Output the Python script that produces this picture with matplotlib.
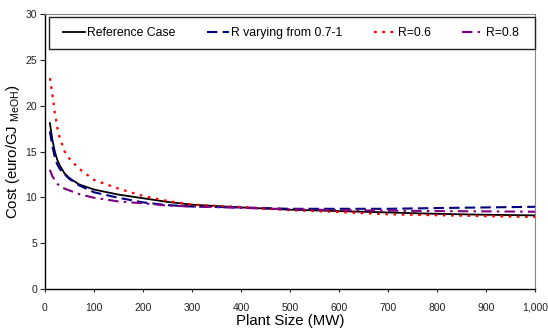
import matplotlib
matplotlib.use("Agg")
import matplotlib.pyplot as plt
from matplotlib.ticker import FuncFormatter
from matplotlib.patches import Rectangle

plt.rcParams['font.family'] = ['Liberation Sans', 'DejaVu Sans']
plt.rcParams['mathtext.fontset'] = 'custom'
plt.rcParams['mathtext.rm'] = 'Liberation Sans'

sizes = [10, 15, 20, 25, 30, 40, 50, 70, 100, 150, 200, 250, 300, 400, 500, 600, 700, 800, 900, 1000]
ref_case = [18.1, 16.3, 15.0, 14.1, 13.5, 12.6, 12.1, 11.4, 10.85, 10.3, 9.9, 9.5, 9.2, 8.9, 8.65, 8.5, 8.35, 8.2, 8.1, 8.03]
r_vary = [17.2, 15.6, 14.4, 13.6, 13.1, 12.5, 12.0, 11.3, 10.55, 9.95, 9.45, 9.15, 9.0, 8.9, 8.75, 8.75, 8.75, 8.83, 8.9, 8.97]
r_06 = [23.0, 21.2, 19.2, 17.6, 16.5, 15.0, 14.2, 13.1, 11.9, 10.95, 10.15, 9.6, 9.2, 8.95, 8.6, 8.4, 8.15, 8.05, 7.95, 7.85]
r_08 = [13.0, 12.3, 11.9, 11.5, 11.2, 10.95, 10.75, 10.35, 9.95, 9.55, 9.35, 9.1, 9.0, 8.85, 8.7, 8.6, 8.55, 8.5, 8.47, 8.43]
labels = ["Reference Case", "R varying from 0.7-1", "R=0.6", "R=0.8"]

fig = plt.figure(figsize=(5.48, 3.32), dpi=100)
ax = fig.add_axes([0.0821, 0.1295, 0.8942, 0.8283])

ax.plot(sizes, ref_case, color='black', lw=1.3, label=labels[0])
ax.plot(sizes, r_vary, color='#000080', lw=1.5, ls=(0, (5, 2.5)), label=labels[1])
ax.plot(sizes, r_06, color='#ff0000', lw=1.6, ls=(0, (1.2, 2.5)), label=labels[2])
ax.plot(sizes, r_08, color='#800080', lw=1.5, ls=(0, (5, 2.5, 1.2, 2.5)), label=labels[3])

ax.set_xlim(0, 1000)
ax.set_ylim(0, 30)
ax.set_xticks(range(0, 1001, 100))
ax.set_yticks(range(0, 31, 5))
ax.xaxis.set_major_formatter(FuncFormatter(lambda v, p: f"{int(v):,}"))
ax.tick_params(axis='both', labelsize=7.5, width=0.8, direction='out', colors='#222222')
ax.tick_params(axis='x', length=2.5, pad=7.5)
ax.tick_params(axis='y', length=3.6, pad=2)
for s in ['left', 'bottom']:
    ax.spines[s].set_color('black')
    ax.spines[s].set_linewidth(1.0)
for s in ['top', 'right']:
    ax.spines[s].set_color('#888888')
    ax.spines[s].set_linewidth(0.8)

ax.set_xlabel("Plant Size (MW)", fontsize=10.8, labelpad=1)
ax.set_ylabel(r"Cost (euro/GJ $_{\rm MeOH}$)", fontsize=10.8)
ax.yaxis.set_label_coords(-0.047, 0.5)

# legend frame (spans the plot width)
ax.add_patch(Rectangle((0.008, 0.873), 0.992, 0.117, transform=ax.transAxes,
                       facecolor='white', edgecolor='#222222', lw=1.0, zorder=5,
                       clip_on=False))
leg = ax.legend(loc='center left', bbox_to_anchor=(0.0367, 0.9315), ncol=4, fontsize=8.8,
                frameon=False, handlelength=1.8, columnspacing=2.6,
                handletextpad=0.15, borderaxespad=0, borderpad=0)
leg.set_zorder(6)

fig.savefig("out.png", dpi=100)
